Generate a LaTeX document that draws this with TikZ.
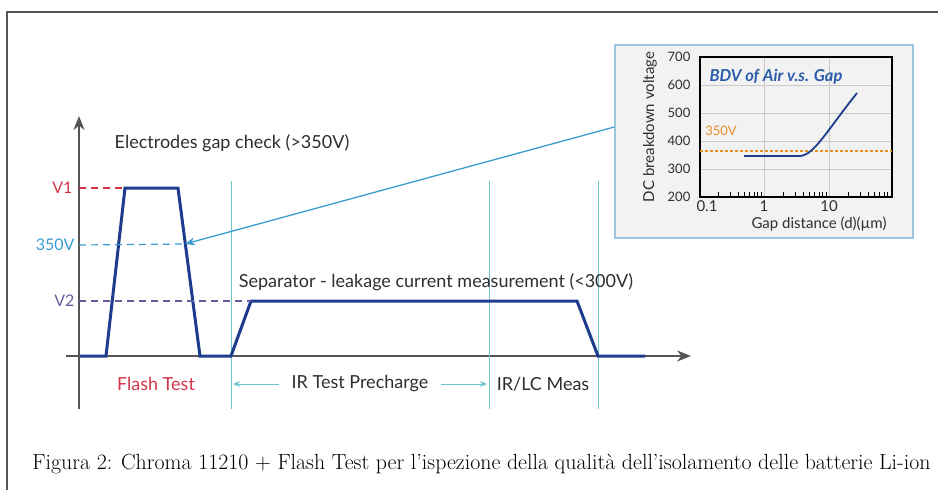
\documentclass[tikz,border=0pt]{standalone}
\usepackage{fontspec}
\newfontfamily\lato{Lato}
\usetikzlibrary{arrows.meta}

\definecolor{wavenavy}{HTML}{1E3C8E}
\definecolor{axisgray}{HTML}{555555}
\definecolor{textgray}{HTML}{2E2E2E}
\definecolor{vred}{HTML}{D2344A}
\definecolor{vblue}{HTML}{3A9BD0}
\definecolor{vpurple}{HTML}{6A5AA0}
\definecolor{phaseteal}{HTML}{6CC4CF}
\definecolor{insetblue}{HTML}{9CC6DC}
\definecolor{insetgray}{HTML}{F2F2F2}
\definecolor{gridgray}{HTML}{C8C8C8}
\definecolor{bdvorange}{HTML}{E8902A}
\definecolor{bdvblue}{HTML}{2A5CAB}

\begin{document}
\begin{tikzpicture}[x=1pt,y=-1pt,
  axis/.style={draw=axisgray,line width=2pt,-{Stealth[length=14pt,width=11pt]}},
  wave/.style={draw=wavenavy,line width=3pt,line join=miter},
  phase/.style={draw=phaseteal,line width=1pt},
  level/.style={dashed,line width=1.2pt,dash pattern=on 7pt off 5pt},
  txt/.style={font=\lato\fontsize{18}{21}\selectfont,text=textgray},
  lvl/.style={font=\lato\fontsize{16}{19}\selectfont,anchor=east},
  span/.style={draw=phaseteal,line width=1pt,-{Stealth[length=7pt,width=6pt]},shorten >=2pt},
  small/.style={font=\lato\fontsize{15}{18}\selectfont,text=textgray},
  tick/.style={font=\lato\fontsize{13}{15}\selectfont,text=textgray,inner sep=1pt}]
  \useasboundingbox (0,0) rectangle (938,490);

  % outer frame
  \draw[axisgray,line width=1.2pt] (7,490) -- (7,12) -- (938,12);

  % axes
  \coordinate (ybot) at (79,409);
  \coordinate (ytop) at (79,116);
  \coordinate (xleft) at (66,356);
  \coordinate (xright) at (691,356);
  \draw[axis] (ybot) -- (ytop);
  \draw[axis] (xleft) -- (xright);

  % phase boundaries
  \foreach \name/\x in {pa/231,pb/489,pc/598} {
    \coordinate (\name-top) at (\x,181);
    \coordinate (\name-bot) at (\x,409);
    \draw[phase] (\name-top) -- (\name-bot);
  }

  % waveform
  \coordinate (w0) at (80,356);
  \coordinate (w1) at (106,356);
  \coordinate (w2) at (125,188);
  \coordinate (w3) at (178,188);
  \coordinate (w4) at (200,356);
  \coordinate (w5) at (231,356);
  \coordinate (w6) at (251,301);
  \coordinate (w7) at (577,301);
  \coordinate (w8) at (598,356);
  \coordinate (w9) at (645,356);
  \coordinate (hit) at (185,244);
  \draw[wave] (w0) -- (w1) -- (w2) -- (w3) -- (w4) -- (w5) -- (w6) -- (w7) -- (w8) -- (w9);

  % voltage levels
  \node[lvl,text=vred] (v1) at (76,188) {V1};
  \node[lvl,text=vblue] (v350) at (78,245) {350V};
  \node[lvl,text=vpurple] (v2) at (78,301) {V2};
  \draw[level,vred] (ybot |- v1) -- (w2);
  \draw[level,vblue] (ybot |- v350) -- (hit);
  \draw[level,vpurple] (ybot |- v2) -- (w6);

  % texts
  \node[txt] (gapcheck) at (232,143) {Electrodes gap check (>350V)};
  \node[txt] (leak) at (436,282) {Separator - leakage current measurement (<300V)};
  \node[txt,text=vred] (flash) at (156,384) {Flash Test};
  \node[txt,inner xsep=12pt] (prech) at (360,384) {IR Test Precharge};
  \node[txt] (meas) at (543,384) {IR/LC Meas};
  \draw[span] (prech.west) -- (prech.west -| pa-top);
  \draw[span] (prech.east) -- (prech.east -| pb-top);

  % inset: BDV of air
  \node[draw=insetblue,fill=insetgray,line width=1.5pt,minimum width=298pt,minimum height=193pt] (inset) at (764,141.5) {};
  \foreach \y in {85,113,141,169}
    \draw[gridgray,line width=1pt] (700,\y) -- (892,\y);
  \foreach \x in {764,829}
    \draw[gridgray,line width=1pt] (\x,57) -- (\x,197);
  \foreach \e in {0.1,1,10}
    \foreach \m in {2,...,9}
      \draw[black,line width=0.8pt] ({764+65*log10(\e*\m)},197) -- ++(0,-5);
  \draw[black,line width=1.5pt] (700,57) rectangle (892,197);
  \draw[bdvorange,line width=1.8pt,dash pattern=on 3pt off 2pt] (700,151) -- (892,151);
  \draw[wavenavy,line width=1.8pt] (744,156) -- (800,156) .. controls (814,155) and (826,132) .. (857,93);
  \foreach \v in {200,300,...,700}
    \node[tick] (ytick\v) at (679,{197-(\v-200)*0.28}) {\v};
  \node[tick,font=\lato\fontsize{15}{17}\selectfont] (xtick0) at (707,206) {0.1};
  \node[tick,font=\lato\fontsize{15}{17}\selectfont] (xtick1) at (764,206) {1};
  \node[tick,font=\lato\fontsize{15}{17}\selectfont] (xtick2) at (829,206) {10};
  \node[small,inner sep=1pt] (xlabel) at (819,224) {Gap distance (d)(\textmu m)};
  \node[small,rotate=90] (ylabel) at (650,127) {DC breakdown voltage};
  \node[tick,text=bdvorange] (orange350) at (721,131) {350V};
  \node[small,text=bdvblue,font=\lato\bfseries\itshape\fontsize{16.5}{19}\selectfont] (bdvtitle) at (776,77) {BDV of Air v.s. Gap};

  % callout
  \coordinate (calloutin) at (inset.west |- 0,127);
  \draw[vblue,line width=1.3pt,-{Stealth[length=10pt,width=8pt]}] (calloutin) -- (hit);

  % caption
  \node[font=\fontsize{21.9}{26}\selectfont,text=black] (caption) at (481.5,464) {Figura 2: Chroma 11210 + Flash Test per l’ispezione della qualità dell’isolamento delle batterie Li-ion};
\end{tikzpicture}
\end{document}
